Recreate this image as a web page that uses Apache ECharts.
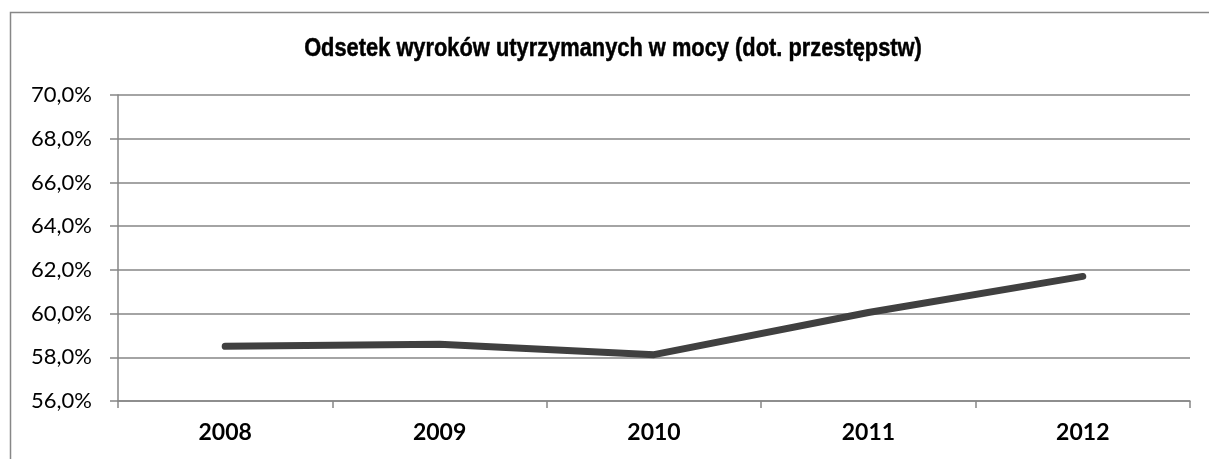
<!DOCTYPE html>
<html>
<head>
<meta charset="utf-8">
<script src="https://cdn.jsdelivr.net/npm/echarts@6/dist/echarts.min.js"></script>
<style>
  html, body { margin: 0; padding: 0; background: #fff; }
  #chart { width: 1209px; height: 459px; }
</style>
</head>
<body>
<div id="chart"></div>
<script>
const years = ['2008', '2009', '2010', '2011', '2012'];
const shares = [58.5, 58.6, 58.12, 60.05, 61.7];
const yMin = 56, yMax = 70, yStep = 2;
const titleText = 'Odsetek wyroków utyrzymanych w mocy (dot. przestępstw)';

const chart = echarts.init(document.getElementById('chart'));

const option = {
  backgroundColor: '#ffffff',
  animation: false,
  graphic: [{
    type: 'rect',
    shape: {x: 10.5, y: 12.5, width: 1220, height: 470},
    style: {fill: 'none', stroke: '#878787', lineWidth: 1.5},
    silent: true
  }, {
    // condensed bold title (Arial Narrow look)
    type: 'text',
    x: 613,
    y: 49,
    scaleX: 0.84,
    style: {
      text: titleText,
      align: 'center',
      verticalAlign: 'middle',
      fontFamily: '"Liberation Sans", Arial, sans-serif',
      fontWeight: 'bold',
      fontSize: 26,
      fill: '#000',
      stroke: '#000',
      lineWidth: 0.5
    },
    silent: true
  }],
  grid: {
    left: 118,
    right: 19,
    top: 95,
    bottom: 58,
    containLabel: false
  },
  xAxis: {
    type: 'category',
    data: years,
    boundaryGap: true,
    axisLine: {lineStyle: {color: '#868686', width: 1.5}},
    axisTick: {show: true, length: 7, lineStyle: {color: '#868686', width: 1.5}},
    axisLabel: {
      margin: 20,
      color: '#000',
      fontSize: 23,
      fontWeight: 'bold',
      fontFamily: 'Lato, "Open Sans", sans-serif'
    }
  },
  yAxis: {
    type: 'value',
    min: yMin,
    max: yMax,
    interval: yStep,
    axisLine: {show: true, lineStyle: {color: '#868686', width: 1.5}},
    axisTick: {show: true, length: 8, lineStyle: {color: '#868686', width: 1.5}},
    splitLine: {show: true, lineStyle: {color: '#868686', width: 1.5}},
    axisLabel: {
      margin: 26,
      color: '#000',
      fontSize: 22,
      fontFamily: 'Lato, "Open Sans", sans-serif',
      formatter: v => v.toFixed(1).replace('.', ',') + '%'
    }
  },
  series: [{
    type: 'line',
    data: shares,
    showSymbol: false,
    symbol: 'none',
    lineStyle: {color: '#404040', width: 7, cap: 'round', join: 'round'}
  }]
};

chart.setOption(option);
</script>
</body>
</html>
